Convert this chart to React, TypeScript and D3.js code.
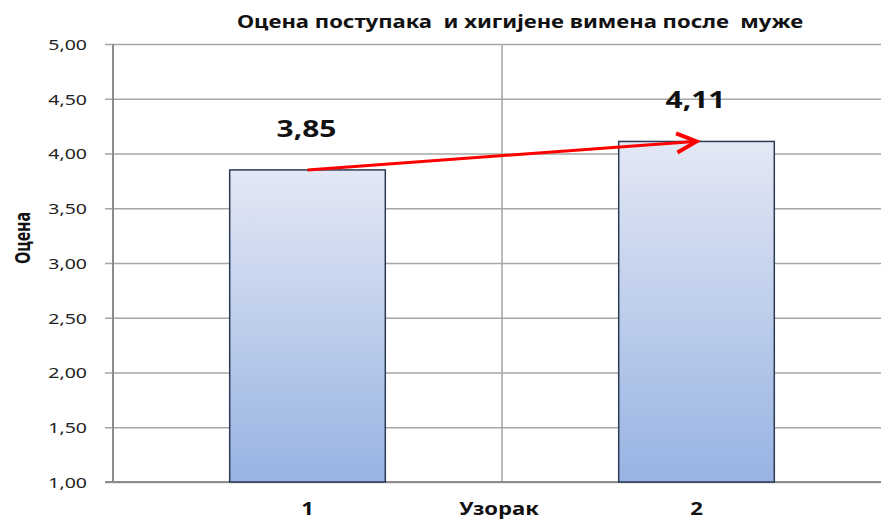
import { useEffect, useRef } from "react"
import * as d3 from "d3";

const categories: string[] = ["1", "2"];
const values: number[] = [3.85, 4.11];
const valueLabels: string[] = ["3,85", "4,11"];
const yTickValues: number[] = [1, 1.5, 2, 2.5, 3, 3.5, 4, 4.5, 5];
const yTickLabels: string[] = ["1,00", "1,50", "2,00", "2,50", "3,00", "3,50", "4,00", "4,50", "5,00"];
const chartTitle = "Оцена поступака  и хигијене вимена после  муже";
const xTitle = "Узорак";
const yTitle = "Оцена";

const W = 881;
const H = 519;
const FONT = "'Noto Sans', sans-serif";
const SX = 1.3; // the picture is stretched sideways

export default function App() {
    const svgRef = useRef<SVGSVGElement | null>(null);

    useEffect(() => {
        if (!svgRef.current) return;
        const margin = { top: 44, right: -10, bottom: 37, left: 113 };

        const svg = d3.select(svgRef.current);
        svg.selectAll("*").remove();

        const x = d3.scaleBand()
            .domain(categories)
            .range([margin.left, W - margin.right])
            .paddingInner(0.6)
            .paddingOuter(0.3);
        const y = d3.scaleLinear().domain([1, 5]).range([H - margin.bottom, margin.top]);

        const defs = svg.append("defs");
        const grad = defs.append("linearGradient")
            .attr("id", "barFill")
            .attr("x1", 0).attr("y1", 0).attr("x2", 0).attr("y2", 1);
        grad.append("stop").attr("offset", "0%").attr("stop-color", "#e3e8f4");
        grad.append("stop").attr("offset", "100%").attr("stop-color", "#98b3e3");

        // horizontal gridlines + ticks
        const yAxis = d3.axisLeft(y)
            .tickValues(yTickValues)
            .tickSize(-(W - margin.left))
            .tickFormat((d: any, i: number) => yTickLabels[i]);
        const gy = svg.append("g")
            .attr("transform", `translate(${margin.left},0)`)
            .call(yAxis);
        gy.select(".domain").remove();
        gy.selectAll(".tick line")
            .attr("x1", -8)
            .attr("stroke", "#a6a6a6")
            .attr("stroke-width", 1.5);
        gy.selectAll(".tick text")
            .attr("x", 0)
            .attr("dy", "0.36em")
            .attr("text-anchor", "end")
            .attr("transform", `translate(-26,0) scale(${SX},1)`)
            .attr("fill", "#222")
            .style("font-family", FONT)
            .style("font-size", "15px");

        // vertical gridline between the categories
        const step = x.step();
        categories.slice(0, -1).forEach((c) => {
            const gx = (x(c) as number) + x.bandwidth() + (step - x.bandwidth()) / 2;
            svg.append("line")
                .attr("x1", gx).attr("x2", gx)
                .attr("y1", y(5)).attr("y2", y(1))
                .attr("stroke", "#a6a6a6")
                .attr("stroke-width", 1.5);
        });

        // axes lines
        svg.append("line")
            .attr("x1", margin.left).attr("x2", margin.left)
            .attr("y1", y(5)).attr("y2", y(1))
            .attr("stroke", "#8c8c8c").attr("stroke-width", 2);
        svg.append("line")
            .attr("x1", margin.left - 8).attr("x2", W)
            .attr("y1", y(1)).attr("y2", y(1))
            .attr("stroke", "#8c8c8c").attr("stroke-width", 2);

        // bars
        svg.append("g")
            .selectAll("rect")
            .data(values)
            .join("rect")
            .attr("x", (d: number, i: number) => x(categories[i]) as number)
            .attr("y", (d: number) => y(d))
            .attr("width", x.bandwidth())
            .attr("height", (d: number) => y(1) - y(d))
            .attr("fill", "url(#barFill)")
            .attr("stroke", "#2c3b55")
            .attr("stroke-width", 1.5);

        // value labels
        svg.append("g")
            .selectAll("text")
            .data(values)
            .join("text")
            .attr("transform", (d: number, i: number) =>
                `translate(${(x(categories[i]) as number) + x.bandwidth() / 2 - 1},${y(d) - 33}) scale(${SX},1)`)
            .attr("text-anchor", "middle")
            .attr("fill", "#111")
            .style("font-family", FONT)
            .style("font-size", "23px")
            .style("font-weight", "bold")
            .text((d: number, i: number) => valueLabels[i]);

        // red arrow between the bar tops
        const x0 = (x(categories[0]) as number) + x.bandwidth() / 2;
        const x1 = (x(categories[1]) as number) + x.bandwidth() / 2;
        const y0 = y(values[0]);
        const y1 = y(values[1]);
        const ang = Math.atan2(y1 - y0, x1 - x0);
        svg.append("line")
            .attr("x1", x0).attr("y1", y0)
            .attr("x2", x1 - 2).attr("y2", y1)
            .attr("stroke", "#ff0000").attr("stroke-width", 3);
        const headLen = 22;
        const spread = 0.45;
        const head = [
            [x1 - headLen * Math.cos(ang - spread), y1 - headLen * Math.sin(ang - spread)],
            [x1, y1],
            [x1 - headLen * Math.cos(ang + spread), y1 - headLen * Math.sin(ang + spread)],
        ];
        svg.append("path")
            .attr("d", d3.line()(head as [number, number][]))
            .attr("fill", "none")
            .attr("stroke", "#ff0000")
            .attr("stroke-width", 4)
            .attr("stroke-linejoin", "miter");

        // x category labels
        svg.append("g")
            .selectAll("text")
            .data(categories)
            .join("text")
            .attr("transform", (d: string) =>
                `translate(${(x(d) as number) + x.bandwidth() / 2},${H - 4}) scale(${SX},1)`)
            .attr("text-anchor", "middle")
            .attr("fill", "#111")
            .style("font-family", FONT)
            .style("font-size", "17px")
            .style("font-weight", "bold")
            .text((d: string) => d);

        // x title between categories
        svg.append("text")
            .attr("transform", `translate(${(x0 + x1) / 2 - 3},${H - 4}) scale(${SX},1)`)
            .attr("text-anchor", "middle")
            .attr("fill", "#111")
            .style("font-family", FONT)
            .style("font-size", "17px")
            .style("font-weight", "bold")
            .text(xTitle);

        // y title
        svg.append("text")
            .attr("transform", `translate(30,238) rotate(-90) scale(1,${SX})`)
            .attr("text-anchor", "middle")
            .attr("fill", "#111")
            .style("font-family", FONT)
            .style("font-size", "16px")
            .style("font-weight", "bold")
            .text(yTitle);

        // chart title
        svg.append("text")
            .attr("transform", `translate(520,28) scale(${SX},1)`)
            .attr("text-anchor", "middle")
            .attr("fill", "#111")
            .style("font-family", FONT)
            .style("font-size", "17px")
            .style("font-weight", "bold")
            .style("white-space", "pre")
            .text(chartTitle);
    }, []);

    return (
        <svg ref={svgRef} width={W} height={H}
            style={{ position: "absolute", left: 0, top: 0, background: "#fff" }} />
    );
}
